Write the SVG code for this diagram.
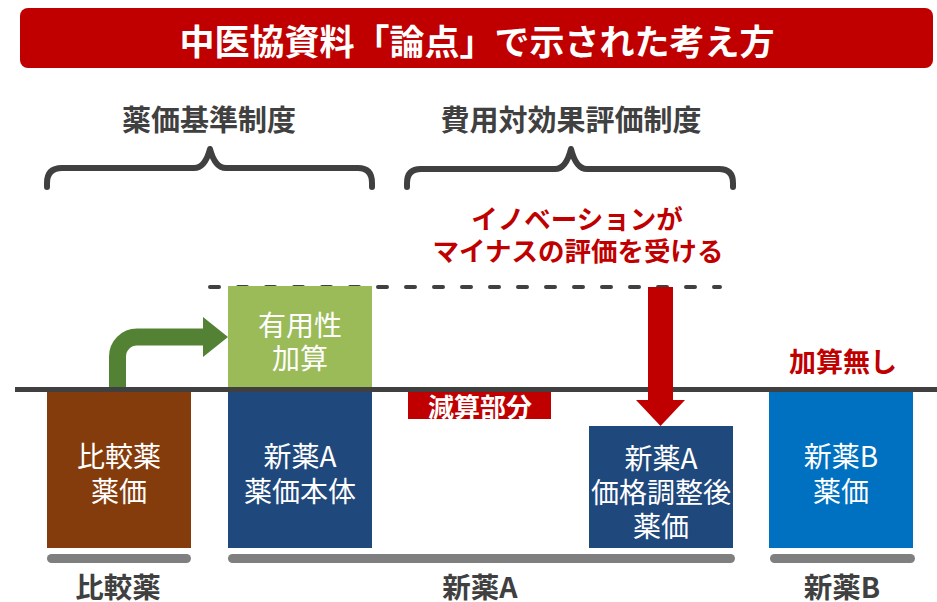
<svg xmlns="http://www.w3.org/2000/svg" width="937" height="602" viewBox="0 0 937 602">
<style>
text{font-family:"Noto Sans CJK JP","Noto Sans",sans-serif;text-anchor:middle;dominant-baseline:central}
.w{fill:#fff;font-size:28px}
.hd{fill:#404040;font-size:29px;font-weight:bold}
.red{fill:#C00000;font-weight:bold}
.brace{fill:none;stroke:#404040;stroke-width:6;stroke-linecap:round;stroke-linejoin:round}
.bar{fill:#7F7F7F}
</style>
<rect width="937" height="602" fill="#fff"/>
<g id="title">
<rect x="20" y="8" width="913" height="60" rx="8" fill="#C00000"/>
<text x="477" y="39" style="fill:#fff;font-size:35px;font-weight:bold">中医協資料「論点」で示された考え方</text>
</g>
<g id="brace-yakka">
<text class="hd" x="209" y="118">薬価基準制度</text>
<path class="brace" d="M47,187 V183 Q47,168 62,168 H194 Q205,168 210,149 Q215,168 226,168 H358 Q372,168 372,183 V187"/>
</g>
<g id="brace-hiyou">
<text class="hd" x="571" y="118">費用対効果評価制度</text>
<path class="brace" d="M407,187 V183 Q407,169 421,169 H555 Q566,169 571,149 Q576,169 587,169 H719 Q733,169 733,183 V187"/>
</g>
<g id="note-innovation">
<text class="red" x="577" y="217" style="font-size:26.5px">イノベーションが</text>
<text class="red" x="578" y="249" style="font-size:26.5px">マイナスの評価を受ける</text>
</g>
<g id="dashed-level">
<line x1="210" y1="287" x2="720" y2="287" stroke="#404040" stroke-width="4" stroke-linecap="round" stroke-dasharray="9 19"/>
</g>
<g id="hikaku-box">
<rect x="47" y="392" width="144" height="156" fill="#843C0C"/>
<text class="w" x="119" y="455">比較薬</text>
<text class="w" x="119" y="490">薬価</text>
</g>
<g id="yuuyou-box">
<rect x="228" y="286" width="144" height="103" fill="#9BBB59"/>
<text class="w" x="300" y="324">有用性</text>
<text class="w" x="300" y="357">加算</text>
</g>
<g id="shinyakuA-box">
<rect x="228" y="392" width="144" height="156" fill="#1F497D"/>
<text class="w" x="300" y="455">新薬A</text>
<text class="w" x="300" y="490">薬価本体</text>
</g>
<g id="genzan-box">
<rect x="408" y="392" width="143" height="27" fill="#C00000"/>
<text x="480" y="405" style="fill:#fff;font-size:26px;font-weight:bold">減算部分</text>
</g>
<g id="shinyakuA-adj-box">
<rect x="589" y="426" width="144" height="122" fill="#1F497D"/>
<text class="w" x="661" y="457">新薬A</text>
<text class="w" x="661" y="491">価格調整後</text>
<text class="w" x="661" y="525">薬価</text>
</g>
<g id="shinyakuB-box">
<text class="red" x="843" y="360" style="font-size:27px">加算無し</text>
<rect x="769" y="392" width="144" height="156" fill="#0070C0"/>
<text class="w" x="841" y="455">新薬B</text>
<text class="w" x="841" y="490">薬価</text>
</g>
<g id="connectors">
<path d="M117.5,390 V356.5 A19.5,19.5 0 0 1 137,337 H205" fill="none" stroke="#548235" stroke-width="17"/>
<polygon points="203,317 228,337 203,357" fill="#548235"/>
<line x1="15" y1="389.5" x2="937" y2="389.5" stroke="#404040" stroke-width="5"/>
<rect x="648" y="287" width="25" height="114" fill="#C00000"/>
<polygon points="636,400 685,400 660.5,426" fill="#C00000"/>
</g>
<g id="groups">
<rect class="bar" x="47" y="554" width="144" height="9" rx="4.5"/>
<rect class="bar" x="228" y="554" width="507" height="9" rx="4.5"/>
<rect class="bar" x="770" y="554" width="145" height="9" rx="4.5"/>
<text class="hd" x="118" y="585" style="font-size:28.5px">比較薬</text>
<text class="hd" x="480" y="585" style="font-size:28.5px">新薬A</text>
<text class="hd" x="842" y="585" style="font-size:28.5px">新薬B</text>
</g>
</svg>
